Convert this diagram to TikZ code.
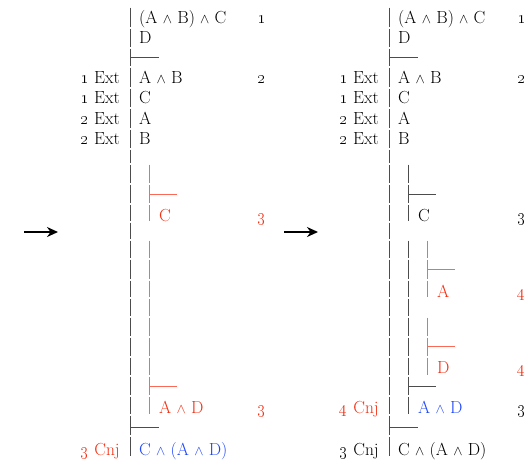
\documentclass[tikz,border=0pt]{standalone}
\usepackage{pgf,tikz}
\usetikzlibrary{arrows.meta}

\definecolor{prfred}{RGB}{245,45,15}
\definecolor{barred}{RGB}{250,105,85}
\definecolor{prfblue}{RGB}{30,70,250}
\newcommand{\wdg}{\scalebox{0.8}{$\wedge$}}
\newcommand{\osn}[1]{\oldstylenums{#1}}

\begin{document}
\begin{tikzpicture}[x=1pt,y=-1pt,
  fml/.style={anchor=base west,inner sep=0pt,font=\fontsize{17.5}{20}\selectfont},
  rul/.style={anchor=base east,inner sep=0pt,font=\fontsize{17.5}{20}\selectfont},
  num/.style={anchor=base west,inner sep=0pt,font=\fontsize{17.5}{20}\selectfont},
  bar/.style={line width=0.9pt,black!70},
  redbar/.style={line width=0.9pt,barred}]

\useasboundingbox (0,0) rectangle (532,461);

% left proof

\foreach \a/\b in {7/28,28/48,48/67,67/88,88/108,108/129,129/149,149/164,164/184,184/204,204/222,222/240,240/259,259/280,280/298,298/317,317/337,337/357,357/376,376/396,396/415,415/436,436/457}
  \draw[bar] (130,\a+0.7) -- (130,\b-0.7);
\draw[bar] (130,57) -- (159,57);

\foreach \a/\b in {164/184,184/204,204/222,240/259,259/280,280/298,298/317,317/337,337/357,357/376,376/396,396/415}
  \draw[redbar] (149,\a+0.7) -- (149,\b-0.7);
\draw[redbar] (149,194) -- (177,194);
\draw[redbar] (149,386) -- (177,386);
\draw[bar] (130,427) -- (159,427);

\draw (139,23)  node (lf1) [fml] {(A \wdg\ B) \wdg\ C} ;
\draw (139,43)  node (lf2) [fml] {D} ;
\draw (139,83)  node (lf3) [fml] {A \wdg\ B} ;
\draw (139,103) node (lf4) [fml] {C} ;
\draw (139,124) node (lf5) [fml] {A} ;
\draw (139,144) node (lf6) [fml] {B} ;
\draw (159,221) node (lf7) [fml,prfred] {C} ;
\draw (159,413) node (lf8) [fml,prfred] {A \wdg\ D} ;
\draw (139,455) node (lf9) [fml,prfblue] {C \wdg\ (A \wdg\ D)} ;

\draw (120,83)  node (lr3) [rul] {\osn{1} Ext} ;
\draw (120,103) node (lr4) [rul] {\osn{1} Ext} ;
\draw (120,124) node (lr5) [rul] {\osn{2} Ext} ;
\draw (120,144) node (lr6) [rul] {\osn{2} Ext} ;
\draw (120,455) node (lr9) [rul,prfred] {\osn{3} Cnj} ;

\draw (257,23)  node (ln1) [num] {\osn{1}} ;
\draw (257,83)  node (ln3) [num] {\osn{2}} ;
\draw (257,221) node (ln7) [num,prfred] {\osn{3}} ;
\draw (257,413) node (ln8) [num,prfred] {\osn{3}} ;

% right proof

\foreach \a/\b in {7/28,28/48,48/67,67/88,88/108,108/129,129/149,149/164,164/184,184/204,204/222,222/240,240/259,259/280,280/298,298/317,317/337,337/357,357/376,376/396,396/415,415/436,436/457}
  \draw[bar] (389,\a+0.7) -- (389,\b-0.7);
\draw[bar] (389,57) -- (418,57);

\foreach \a/\b in {164/184,184/204,204/222,240/259,259/280,280/298,298/317,317/337,337/357,357/376,376/396,396/415}
  \draw[bar] (408,\a+0.7) -- (408,\b-0.7);
\draw[bar] (408,194) -- (436,194);

\foreach \a/\b in {240/259,259/280,280/298,317/337,337/357,357/376}
  \draw[redbar] (427,\a+0.7) -- (427,\b-0.7);
\draw[redbar] (427,269) -- (455,269);
\draw[redbar] (427,346) -- (455,346);
\draw[bar] (408,386) -- (436,386);
\draw[bar] (389,427) -- (418,427);

\draw (398,23)  node (rf1) [fml] {(A \wdg\ B) \wdg\ C} ;
\draw (398,43)  node (rf2) [fml] {D} ;
\draw (398,83)  node (rf3) [fml] {A \wdg\ B} ;
\draw (398,103) node (rf4) [fml] {C} ;
\draw (398,124) node (rf5) [fml] {A} ;
\draw (398,144) node (rf6) [fml] {B} ;
\draw (418,221) node (rf7) [fml] {C} ;
\draw (437,297) node (rf8) [fml,prfred] {A} ;
\draw (437,373) node (rf9) [fml,prfred] {D} ;
\draw (418,413) node (rf10) [fml,prfblue] {A \wdg\ D} ;
\draw (398,455) node (rf11) [fml] {C \wdg\ (A \wdg\ D)} ;

\draw (379,83)  node (rr3) [rul] {\osn{1} Ext} ;
\draw (379,103) node (rr4) [rul] {\osn{1} Ext} ;
\draw (379,124) node (rr5) [rul] {\osn{2} Ext} ;
\draw (379,144) node (rr6) [rul] {\osn{2} Ext} ;
\draw (379,413) node (rr10) [rul,prfred] {\osn{4} Cnj} ;
\draw (379,455) node (rr11) [rul] {\osn{3} Cnj} ;

\draw (517,23)  node (rn1) [num] {\osn{1}} ;
\draw (517,83)  node (rn3) [num] {\osn{2}} ;
\draw (517,221) node (rn7) [num] {\osn{3}} ;
\draw (517,297) node (rn8) [num,prfred] {\osn{4}} ;
\draw (517,373) node (rn9) [num,prfred] {\osn{4}} ;
\draw (517,413) node (rn10) [num] {\osn{3}} ;

% arrows

\coordinate (arlA) at (24,232);
\coordinate (arlB) at (58,232);
\coordinate (arrA) at (284,232);
\coordinate (arrB) at (318,232);
\draw[line width=2.6pt,-{Stealth[length=11pt,width=10pt]}] (arlA) -- (arlB);
\draw[line width=2.6pt,-{Stealth[length=11pt,width=10pt]}] (arrA) -- (arrB);

\end{tikzpicture}
\end{document}
